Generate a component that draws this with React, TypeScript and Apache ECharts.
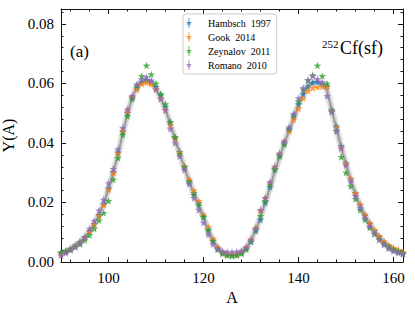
import React, { useEffect, useRef } from 'react';
import * as echarts from 'echarts';

const massNumbers = [
  90, 91, 92, 93, 94, 95, 96, 97, 98, 99, 100, 101, 102, 103, 104, 105, 106, 107, 108, 109,
  110, 111, 112, 113, 114, 115, 116, 117, 118, 119, 120, 121, 122, 123, 124, 125, 126, 127, 128, 129,
  130, 131, 132, 133, 134, 135, 136, 137, 138, 139, 140, 141, 142, 143, 144, 145, 146, 147, 148, 149,
  150, 151, 152, 153, 154, 155, 156, 157, 158, 159, 160, 161, 162,
];

const hambsch1997 = [
  0.0030, 0.0036, 0.0045, 0.0056, 0.0068, 0.0084, 0.0104, 0.0128, 0.0158, 0.0196, 0.0248, 0.0302, 0.0368, 0.0438, 0.0500, 0.0552, 0.0585, 0.0605, 0.0612, 0.0605,
  0.0588, 0.0560, 0.0522, 0.0470, 0.0418, 0.0370, 0.0320, 0.0272, 0.0232, 0.0198, 0.0152, 0.0110, 0.0072, 0.0046, 0.0032, 0.0026, 0.0024, 0.0026, 0.0032, 0.0046,
  0.0068, 0.0105, 0.0142, 0.0200, 0.0252, 0.0310, 0.0358, 0.0400, 0.0445, 0.0488, 0.0530, 0.0565, 0.0590, 0.0602, 0.0605, 0.0598, 0.0592, 0.0512, 0.0455, 0.0390,
  0.0332, 0.0278, 0.0230, 0.0190, 0.0156, 0.0128, 0.0104, 0.0084, 0.0066, 0.0053, 0.0043, 0.0036, 0.0030,
];

const gook2014 = [
  0.0028, 0.0034, 0.0043, 0.0054, 0.0066, 0.0082, 0.0103, 0.0126, 0.0155, 0.0192, 0.0243, 0.0299, 0.0365, 0.0440, 0.0505, 0.0555, 0.0580, 0.0598, 0.0602, 0.0598,
  0.0580, 0.0550, 0.0512, 0.0462, 0.0415, 0.0368, 0.0322, 0.0278, 0.0240, 0.0205, 0.0160, 0.0118, 0.0078, 0.0050, 0.0034, 0.0028, 0.0026, 0.0028, 0.0034, 0.0050,
  0.0076, 0.0115, 0.0172, 0.0215, 0.0265, 0.0318, 0.0362, 0.0405, 0.0440, 0.0480, 0.0515, 0.0550, 0.0575, 0.0585, 0.0588, 0.0590, 0.0588, 0.0508, 0.0450, 0.0385,
  0.0330, 0.0280, 0.0232, 0.0193, 0.0160, 0.0132, 0.0108, 0.0088, 0.0070, 0.0057, 0.0047, 0.0040, 0.0034,
];

const zeynalov2011 = [
  0.0033, 0.0036, 0.0042, 0.0050, 0.0060, 0.0073, 0.0090, 0.0112, 0.0140, 0.0165, 0.0205, 0.0277, 0.0350, 0.0428, 0.0490, 0.0548, 0.0592, 0.0625, 0.0660, 0.0630,
  0.0600, 0.0565, 0.0530, 0.0470, 0.0420, 0.0362, 0.0318, 0.0268, 0.0225, 0.0190, 0.0152, 0.0105, 0.0070, 0.0042, 0.0028, 0.0022, 0.0020, 0.0022, 0.0028, 0.0042,
  0.0070, 0.0110, 0.0155, 0.0205, 0.0260, 0.0312, 0.0355, 0.0395, 0.0448, 0.0495, 0.0540, 0.0580, 0.0610, 0.0628, 0.0660, 0.0625, 0.0600, 0.0505, 0.0440, 0.0353,
  0.0300, 0.0255, 0.0212, 0.0175, 0.0142, 0.0115, 0.0094, 0.0076, 0.0060, 0.0050, 0.0042, 0.0035, 0.0030,
];

const romano2010 = [
  0.0022, 0.0030, 0.0040, 0.0051, 0.0064, 0.0082, 0.0112, 0.0138, 0.0173, 0.0209, 0.0265, 0.0313, 0.0378, 0.0450, 0.0513, 0.0558, 0.0597, 0.0614, 0.0622, 0.0610,
  0.0580, 0.0548, 0.0510, 0.0448, 0.0400, 0.0355, 0.0310, 0.0262, 0.0215, 0.0175, 0.0133, 0.0092, 0.0060, 0.0045, 0.0036, 0.0034, 0.0034, 0.0035, 0.0038, 0.0050,
  0.0075, 0.0112, 0.0175, 0.0215, 0.0268, 0.0320, 0.0365, 0.0405, 0.0452, 0.0498, 0.0550, 0.0585, 0.0612, 0.0625, 0.0615, 0.0605, 0.0558, 0.0505, 0.0440, 0.0382,
  0.0325, 0.0270, 0.0222, 0.0182, 0.0148, 0.0120, 0.0096, 0.0075, 0.0058, 0.0045, 0.0036, 0.0030, 0.0026,
];

const modelBand = [
  0.0030, 0.0036, 0.0044, 0.0055, 0.0067, 0.0083, 0.0103, 0.0128, 0.0158, 0.0196, 0.0245, 0.0300, 0.0362, 0.0432, 0.0498, 0.0553, 0.0590, 0.0608, 0.0612, 0.0603,
  0.0582, 0.0552, 0.0512, 0.0464, 0.0414, 0.0364, 0.0316, 0.0270, 0.0228, 0.0190, 0.0150, 0.0108, 0.0072, 0.0046, 0.0032, 0.0026, 0.0024, 0.0026, 0.0032, 0.0046,
  0.0072, 0.0108, 0.0150, 0.0200, 0.0250, 0.0305, 0.0352, 0.0398, 0.0440, 0.0484, 0.0528, 0.0565, 0.0592, 0.0605, 0.0606, 0.0598, 0.0578, 0.0510, 0.0448, 0.0385,
  0.0328, 0.0275, 0.0228, 0.0188, 0.0154, 0.0126, 0.0102, 0.0082, 0.0065, 0.0052, 0.0042, 0.0036, 0.0031,
];

const xMajorTicks = [100, 120, 140, 160];
const xMinorTicks = [92, 96, 104, 108, 112, 116, 124, 128, 132, 136, 144, 148, 152, 156];
const yMajorTicks = [0, 0.02, 0.04, 0.06, 0.08];
const yMinorTicks = [0.004, 0.008, 0.012, 0.016, 0.024, 0.028, 0.032, 0.036, 0.044, 0.048, 0.052, 0.056, 0.064, 0.068, 0.072, 0.076, 0.084];

const seriesNames = ['Hambsch  1997', 'Gook  2014', 'Zeynalov  2011', 'Romano  2010'];
const seriesColors = ['#1f77b4', '#ff7f0e', '#2ca02c', '#9467bd'];

const STAR = 'path://M50 0 L61.76 33.82 L97.55 34.55 L69.02 56.18 L79.39 90.45 L50 70 L20.61 90.45 L30.98 56.18 L2.45 34.55 L38.24 33.82 Z';
const STAR_ERR = 'path://M43 -30 L57 -30 L57 130 L43 130 Z M50 0 L61.76 33.82 L97.55 34.55 L69.02 56.18 L79.39 90.45 L50 70 L20.61 90.45 L30.98 56.18 L2.45 34.55 L38.24 33.82 Z';

const FONT = '"Liberation Serif", "Times New Roman", serif';
const AXIS_COLOR = '#111';

export default function App() {
  const ref = useRef<HTMLDivElement>(null);
  useEffect(() => {
    if (!ref.current) return;
    const chart = echarts.init(ref.current, null, { renderer: 'svg' });
    const X_MIN = 90, X_MAX = 162, Y_MIN = 0, Y_MAX = 0.085;

    const xAxis = (position: string, ticks: number[], len: number, labels: boolean, line: boolean, extra: any = {}) => ({
      type: 'value', position, min: X_MIN, max: X_MAX,
      axisLine: { show: line, onZero: false, lineStyle: { color: AXIS_COLOR, width: 1 } },
      axisTick: { show: true, inside: true, length: len, customValues: ticks, lineStyle: { color: AXIS_COLOR, width: 1 } },
      axisLabel: { show: labels, customValues: ticks, fontFamily: FONT, fontSize: 15, color: '#000', margin: 8 },
      splitLine: { show: false },
      ...extra,
    });
    const yAxis = (position: string, ticks: number[], len: number, labels: boolean, line: boolean, extra: any = {}) => ({
      type: 'value', position, min: Y_MIN, max: Y_MAX,
      axisLine: { show: line, onZero: false, lineStyle: { color: AXIS_COLOR, width: 1 } },
      axisTick: { show: true, inside: true, length: len, customValues: ticks, lineStyle: { color: AXIS_COLOR, width: 1 } },
      axisLabel: { show: labels, customValues: ticks, fontFamily: FONT, fontSize: 15, color: '#000', margin: 7, formatter: (v: number) => v.toFixed(2) },
      splitLine: { show: false },
      ...extra,
    });

    const dataSeries = [hambsch1997, gook2014, zeynalov2011, romano2010].map((vals, k) => ({
      name: seriesNames[k],
      type: 'scatter',
      xAxisIndex: 0,
      yAxisIndex: 0,
      data: massNumbers.map((a, i) => [a, vals[i]]),
      symbol: STAR,
      symbolSize: 7.5,
      itemStyle: { color: seriesColors[k] },
      z: 3 + k,
    }));

    const bandData = massNumbers.map((a, i) => [a, modelBand[i]]);

    chart.setOption({
      animation: false,
      grid: { left: 61, right: 12, top: 9, bottom: 50, outerBoundsMode: 'none' },
      xAxis: [
        xAxis('bottom', xMajorTicks, 5, true, true, { name: 'A', nameLocation: 'middle', nameGap: 23, nameTextStyle: { fontFamily: FONT, fontSize: 16, color: '#000' } }),
        xAxis('bottom', xMinorTicks, 2.5, false, false),
        xAxis('top', xMajorTicks, 5, false, true),
        xAxis('top', xMinorTicks, 2.5, false, false),
      ],
      yAxis: [
        yAxis('left', yMajorTicks, 5, true, true, { name: 'Y(A)', nameLocation: 'middle', nameGap: 37, nameTextStyle: { fontFamily: FONT, fontSize: 16, color: '#000' } }),
        yAxis('left', yMinorTicks, 2.5, false, false),
        yAxis('right', yMajorTicks, 5, false, true),
        yAxis('right', yMinorTicks, 2.5, false, false),
      ],
      legend: {
        left: 183,
        top: 14,
        orient: 'vertical',
        icon: STAR_ERR,
        itemWidth: 20,
        itemHeight: 10,
        itemGap: 4,
        padding: [4, 6, 4, 3],
        backgroundColor: 'rgba(255,255,255,0.8)',
        borderColor: '#cccccc',
        borderWidth: 1,
        borderRadius: 3,
        textStyle: { fontFamily: FONT, fontSize: 10, color: '#000', padding: [0, 0, 0, 4] },
        data: seriesNames,
      },
      graphic: [
        { type: 'text', left: 70, top: 43, style: { text: '(a)', font: `17px ${FONT}`, fill: '#000' } },
        { type: 'text', left: 322, top: 38, style: { text: '252', font: `11px ${FONT}`, fill: '#000' } },
        { type: 'text', left: 340, top: 39, style: { text: 'Cf(sf)', font: `18px ${FONT}`, fill: '#000' } },
      ],
      series: [
        {
          name: 'band-wide', type: 'line', xAxisIndex: 0, yAxisIndex: 0, data: bandData,
          showSymbol: false, silent: true, z: 1,
          lineStyle: { width: 6, color: 'rgba(0,0,0,0.13)', shadowBlur: 5, shadowColor: 'rgba(0,0,0,0.35)' },
        },
        {
          name: 'band-core', type: 'line', xAxisIndex: 0, yAxisIndex: 0, data: bandData,
          showSymbol: false, silent: true, z: 2,
          lineStyle: { width: 2, color: 'rgba(0,0,0,0.28)' },
        },
        ...dataSeries,
      ],
    });
    return () => chart.dispose();
  }, []);
  return <div ref={ref} style={{ position: 'fixed', left: 0, top: 0, width: 415, height: 312, background: '#fff' }} />;
}
